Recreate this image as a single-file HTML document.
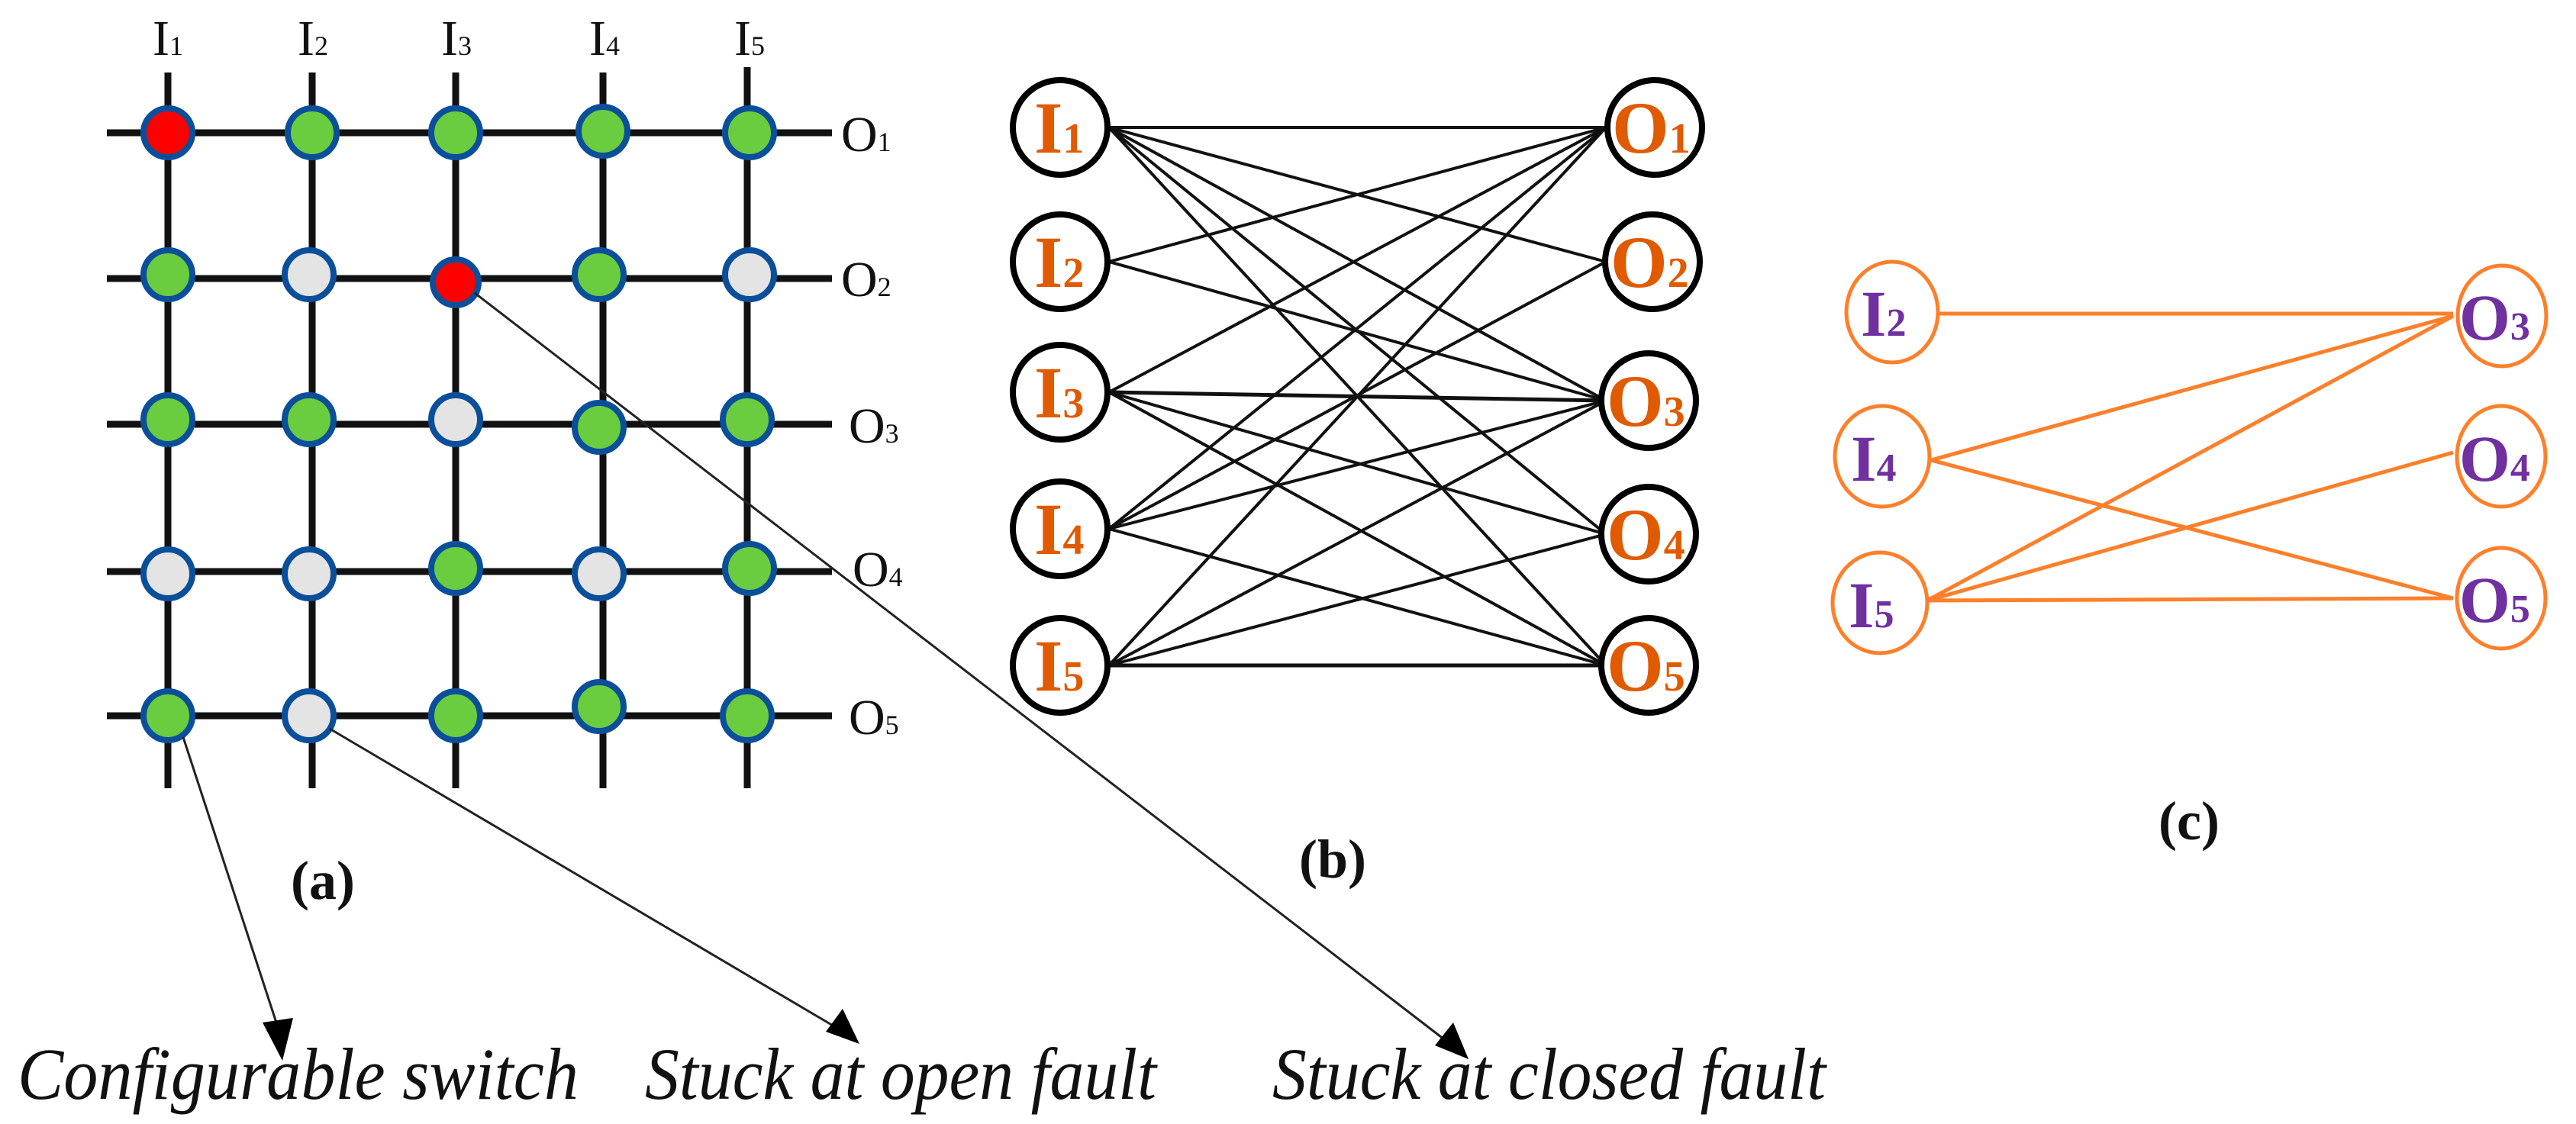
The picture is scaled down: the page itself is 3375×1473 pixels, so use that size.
<!DOCTYPE html>
<html><head><meta charset="utf-8"><style>html,body{margin:0;padding:0;background:#fff}svg{display:block}</style></head>
<body>
<svg width="3375" height="1473" viewBox="0 0 3375 1473" xmlns="http://www.w3.org/2000/svg" font-family="'Liberation Serif', serif">
<rect width="3375" height="1473" fill="#fff"/>
<g stroke="#111" stroke-width="9">
<line x1="140" y1="174" x2="1090" y2="174"/>
<line x1="140" y1="365" x2="1090" y2="365"/>
<line x1="140" y1="556" x2="1090" y2="556"/>
<line x1="140" y1="749" x2="1090" y2="749"/>
<line x1="140" y1="938" x2="1090" y2="938"/>
<line x1="220" y1="95" x2="220" y2="1033"/>
<line x1="409" y1="95" x2="409" y2="1033"/>
<line x1="597" y1="95" x2="597" y2="1033"/>
<line x1="790" y1="95" x2="790" y2="1033"/>
<line x1="979" y1="88" x2="979" y2="1033"/>
</g>
<g stroke="#0B4F9A" stroke-width="8">
<circle cx="220" cy="174" r="32" fill="#ff0000"/>
<circle cx="409" cy="174" r="32" fill="#6ACC3F"/>
<circle cx="597" cy="174" r="32" fill="#6ACC3F"/>
<circle cx="790" cy="172" r="32" fill="#6ACC3F"/>
<circle cx="982" cy="174" r="32" fill="#6ACC3F"/>
<circle cx="220" cy="360" r="32" fill="#6ACC3F"/>
<circle cx="405" cy="360" r="32" fill="#E4E4E4"/>
<circle cx="597" cy="370" r="30" fill="#ff0000"/>
<circle cx="785" cy="360" r="32" fill="#6ACC3F"/>
<circle cx="982" cy="360" r="32" fill="#E4E4E4"/>
<circle cx="220" cy="550" r="32" fill="#6ACC3F"/>
<circle cx="405" cy="550" r="32" fill="#6ACC3F"/>
<circle cx="597" cy="550" r="32" fill="#E4E4E4"/>
<circle cx="785" cy="560" r="32" fill="#6ACC3F"/>
<circle cx="979" cy="550" r="32" fill="#6ACC3F"/>
<circle cx="220" cy="752" r="32" fill="#E4E4E4"/>
<circle cx="405" cy="752" r="32" fill="#E4E4E4"/>
<circle cx="597" cy="745" r="32" fill="#6ACC3F"/>
<circle cx="785" cy="752" r="32" fill="#E4E4E4"/>
<circle cx="982" cy="745" r="32" fill="#6ACC3F"/>
<circle cx="220" cy="938" r="32" fill="#6ACC3F"/>
<circle cx="405" cy="938" r="32" fill="#E4E4E4"/>
<circle cx="597" cy="938" r="32" fill="#6ACC3F"/>
<circle cx="785" cy="926" r="32" fill="#6ACC3F"/>
<circle cx="979" cy="938" r="32" fill="#6ACC3F"/>
</g>
<g font-size="66" fill="#111">
<text x="200" y="72">I<tspan font-size="36">1</tspan></text>
<text x="390" y="72">I<tspan font-size="36">2</tspan></text>
<text x="578" y="72">I<tspan font-size="36">3</tspan></text>
<text x="772" y="72">I<tspan font-size="36">4</tspan></text>
<text x="962" y="72">I<tspan font-size="36">5</tspan></text>
<text x="1102" y="198">O<tspan font-size="36">1</tspan></text>
<text x="1102" y="388">O<tspan font-size="36">2</tspan></text>
<text x="1112" y="580">O<tspan font-size="36">3</tspan></text>
<text x="1117" y="768">O<tspan font-size="36">4</tspan></text>
<text x="1112" y="962">O<tspan font-size="36">5</tspan></text>
</g>
<g stroke="#222" stroke-width="3">
<line x1="240" y1="966" x2="362" y2="1340"/>
<line x1="432" y1="955" x2="1098" y2="1348"/>
<line x1="622" y1="384" x2="1892" y2="1362"/>
</g>
<g fill="#000">
<polygon points="370,1390 344,1340 384,1334"/>
<polygon points="1126,1368 1082,1352 1104,1322"/>
<polygon points="1924,1388 1880,1370 1904,1340"/>
</g>
<g font-weight="bold" font-size="72" fill="#111" text-anchor="middle">
<text x="423" y="1178">(a)</text>
<text x="1746" y="1150">(b)</text>
<text x="2868" y="1100">(c)</text>
</g>
<g font-family="'Liberation Serif', serif" font-style="italic" font-size="96" fill="#111">
<text x="23" y="1440" textLength="735" lengthAdjust="spacingAndGlyphs">Configurable switch</text>
<text x="845" y="1440" textLength="670" lengthAdjust="spacingAndGlyphs">Stuck at open fault</text>
<text x="1667" y="1440" textLength="725" lengthAdjust="spacingAndGlyphs">Stuck at closed fault</text>
</g>
<g stroke="#111" stroke-width="4">
<line x1="1453" y1="167" x2="2104" y2="167"/>
<line x1="1453" y1="167" x2="2104" y2="343"/>
<line x1="1453" y1="167" x2="2104" y2="525"/>
<line x1="1453" y1="167" x2="2104" y2="700"/>
<line x1="1453" y1="167" x2="2104" y2="872"/>
<line x1="1453" y1="343" x2="2104" y2="167"/>
<line x1="1453" y1="343" x2="2104" y2="525"/>
<line x1="1453" y1="514" x2="2104" y2="167"/>
<line x1="1453" y1="514" x2="2104" y2="525" stroke-width="5"/>
<line x1="1453" y1="514" x2="2104" y2="700"/>
<line x1="1453" y1="514" x2="2104" y2="872"/>
<line x1="1453" y1="693" x2="2104" y2="167"/>
<line x1="1453" y1="693" x2="2104" y2="343"/>
<line x1="1453" y1="693" x2="2104" y2="525"/>
<line x1="1453" y1="693" x2="2104" y2="872"/>
<line x1="1453" y1="872" x2="2104" y2="167"/>
<line x1="1453" y1="872" x2="2104" y2="525"/>
<line x1="1453" y1="872" x2="2104" y2="700"/>
<line x1="1453" y1="872" x2="2104" y2="872" stroke-width="5"/>
</g>
<g stroke="#000" stroke-width="8" fill="#fff">
<circle cx="1389" cy="167" r="62"/>
<circle cx="1389" cy="343" r="62"/>
<circle cx="1389" cy="514" r="62"/>
<circle cx="1389" cy="693" r="62"/>
<circle cx="1389" cy="872" r="62"/>
<circle cx="2168" cy="167" r="62"/>
<circle cx="2165" cy="343" r="62"/>
<circle cx="2160" cy="525" r="62"/>
<circle cx="2160" cy="700" r="62"/>
<circle cx="2160" cy="872" r="62"/>
</g>
<g font-weight="bold" font-size="96" fill="#E05A00">
<text x="1355" y="200">I<tspan font-size="56">1</tspan></text>
<text x="1355" y="376">I<tspan font-size="56">2</tspan></text>
<text x="1355" y="547">I<tspan font-size="56">3</tspan></text>
<text x="1355" y="726">I<tspan font-size="56">4</tspan></text>
<text x="1355" y="905">I<tspan font-size="56">5</tspan></text>
<text x="2112" y="200">O<tspan font-size="56">1</tspan></text>
<text x="2110" y="376">O<tspan font-size="56">2</tspan></text>
<text x="2105" y="558">O<tspan font-size="56">3</tspan></text>
<text x="2105" y="733">O<tspan font-size="56">4</tspan></text>
<text x="2105" y="905">O<tspan font-size="56">5</tspan></text>
</g>
<g stroke="#FF7F2A" stroke-width="5">
<line x1="2540" y1="411" x2="3214" y2="411"/>
<line x1="2530" y1="603" x2="3214" y2="414"/>
<line x1="2530" y1="603" x2="3214" y2="784"/>
<line x1="2525" y1="787" x2="3214" y2="414"/>
<line x1="2525" y1="787" x2="3214" y2="593"/>
<line x1="2525" y1="787" x2="3214" y2="784"/>
</g>
<g stroke="#FF7F2A" stroke-width="5" fill="#fff">
<ellipse cx="2479" cy="409" rx="60" ry="66"/>
<ellipse cx="2466" cy="598" rx="62" ry="66"/>
<ellipse cx="2463" cy="790" rx="62" ry="66"/>
<ellipse cx="3278" cy="414" rx="58" ry="66"/>
<ellipse cx="3277" cy="598" rx="58" ry="66"/>
<ellipse cx="3277" cy="784" rx="58" ry="66"/>
</g>
<g font-weight="bold" font-size="86" fill="#7030A0">
<text x="2438" y="440">I<tspan font-size="52">2</tspan></text>
<text x="2425" y="630">I<tspan font-size="52">4</tspan></text>
<text x="2422" y="822">I<tspan font-size="52">5</tspan></text>
<text x="3222" y="445">O<tspan font-size="52">3</tspan></text>
<text x="3222" y="630">O<tspan font-size="52">4</tspan></text>
<text x="3222" y="815">O<tspan font-size="52">5</tspan></text>
</g>
</svg>
</body></html>
